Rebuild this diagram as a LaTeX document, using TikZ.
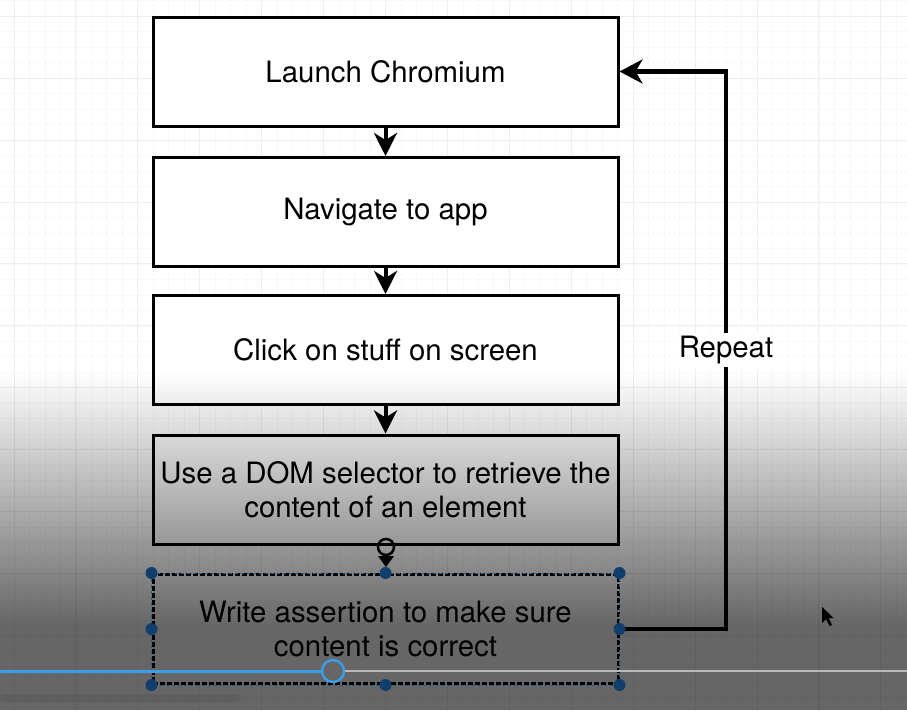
\documentclass[tikz,border=0pt]{standalone}
\usepackage{fontspec}
\setmainfont{TeX Gyre Heros}
\usetikzlibrary{arrows.meta,fadings}
\tikzfading[name=fadedown, top color=transparent!100, middle color=transparent!45, bottom color=transparent!0]
\definecolor{minorgrid}{gray}{0.972}
\definecolor{majorgrid}{gray}{0.935}
\definecolor{handleblue}{RGB}{18,62,110}
\definecolor{scrubblue}{RGB}{58,158,232}
\tikzset{
  box/.style={draw=black, line width=3pt, fill=white, minimum width=465pt, minimum height=109pt, inner sep=0pt, align=center, font=\fontsize{29.4}{34}\selectfont},
  varr/.style={draw=black, line width=4pt, -{Stealth[length=23pt,width=23pt,inset=7pt]}},
  looparr/.style={draw=black, line width=4.5pt, -{Stealth[length=23pt,width=24pt,inset=7pt]}},
  lbl/.style={fill=white, inner sep=3pt, font=\fontsize{29.4}{34}\selectfont},
  handle/.style={fill=handleblue, draw=none, circle, minimum size=12pt, inner sep=0pt}
}
\begin{document}
\begin{tikzpicture}[x=1pt,y=-1pt]
\useasboundingbox (0,0) rectangle (907,710);
\fill[white] (0,0) rectangle (907,710);
% grid
\foreach \i in {0,...,59} {
  \draw[minorgrid, line width=0.8pt] ({-1.48+\i*15.48},0) -- ({-1.48+\i*15.48},710);
}
\foreach \i in {0,...,46} {
  \draw[minorgrid, line width=0.8pt] (0,{0.82+\i*15.48}) -- (907,{0.82+\i*15.48});
}
\foreach \i in {0,...,14} {
  \draw[majorgrid, line width=1pt] ({14+\i*61.92},0) -- ({14+\i*61.92},710);
}
\foreach \i in {0,...,11} {
  \draw[majorgrid, line width=1pt] (0,{16.3+\i*61.92}) -- (907,{16.3+\i*61.92});
}
% boxes
\node[box] (b1) at (385.5,71.5) {Launch Chromium};
\node[box] (b2) at (385.5,212) {Navigate to app};
\node[box] (b3) at (385.5,350) {Click on stuff on screen};
\node[box] (b4) at (385.5,489.5) {Use a DOM selector to retrieve the\\content of an element};
\node[box, dash pattern=on 5pt off 2pt] (b5) at (385.5,629) {Write assertion to make sure\\content is correct};
% arrows
\draw[varr] (b1.south) -- (b2.north);
\draw[varr] (b2.south) -- (b3.north);
\draw[varr] (b3.south) -- (b4.north);
\coordinate (c1) at (726,629);
\coordinate (c2) at (726,71.5);
\draw[looparr] (b5.east) -- (c1) -- node[lbl, pos=0.5] {Repeat} (c2) -- (b1.east);
% rotate handle
\coordinate (rot) at (386,547);
\draw[black, line width=2.5pt] (rot) circle (8pt);
\fill[black] (378,556) -- (394,556) -- (386,567) -- cycle;
% dark overlay
\fill[black, fill opacity=0.6, path fading=fadedown] (0,372) rectangle (907,625);
\fill[black, fill opacity=0.6] (0,625) rectangle (907,710);
% selection
\draw[scrubblue!60!black, line width=1pt, dash pattern=on 3pt off 3pt] (b5.north west) rectangle (b5.south east);
\foreach \a in {north west,north,north east,west,east,south west,south,south east} {
  \node[handle] at (b5.\a) {};
}
% video scrubber
\draw[gray!55, line width=2pt] (344,671) -- (907,671);
\draw[scrubblue, line width=3pt] (0,671) -- (322,671);
\draw[scrubblue, line width=2.5pt] (333,671) circle (11pt);
\fill[black!63, rounded corners=4pt] (0,694) rectangle (240,702);
% cursor
\fill[black] (822,607) -- (822,623) -- (826,619) -- (829.5,626) -- (832,625) -- (828.5,618) -- (833.5,618) -- cycle;
\end{tikzpicture}
\end{document}
